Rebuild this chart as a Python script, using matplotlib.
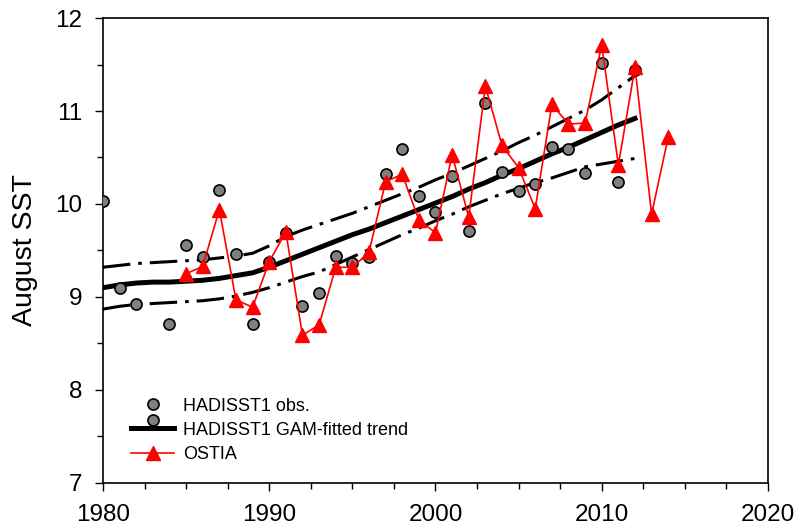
import matplotlib
matplotlib.use('Agg')
import matplotlib.pyplot as plt
from matplotlib.ticker import MultipleLocator

plt.rcParams['font.family'] = ['Liberation Sans', 'DejaVu Sans']

# HADISST1 observations
obs_years = list(range(1980, 2013))
obs_sst = [10.03, 9.10, 8.92, 7.68, 8.71, 9.56, 9.43, 10.15, 9.46, 8.71,
           9.38, 9.69, 8.90, 9.04, 9.44, 9.37, 9.43, 10.32, 10.59, 10.09,
           9.91, 10.30, 9.71, 11.09, 10.34, 10.14, 10.22, 10.61, 10.59, 10.33,
           11.52, 10.24, 11.44]

# GAM-fitted trend and confidence band
trend_years = list(range(1980, 2013))
trend = [9.10, 9.13, 9.15, 9.16, 9.16, 9.17, 9.18, 9.20, 9.23, 9.26,
         9.32, 9.39, 9.46, 9.53, 9.60, 9.67, 9.73, 9.80, 9.87, 9.94,
         10.01, 10.08, 10.16, 10.23, 10.31, 10.38, 10.46, 10.54, 10.61, 10.69,
         10.77, 10.85, 10.92]
upper = [9.32, 9.34, 9.36, 9.37, 9.38, 9.39, 9.40, 9.42, 9.44, 9.47,
         9.55, 9.65, 9.72, 9.78, 9.84, 9.90, 9.97, 10.04, 10.11, 10.18,
         10.26, 10.33, 10.41, 10.49, 10.57, 10.66, 10.74, 10.83, 10.92, 11.01,
         11.12, 11.25, 11.38]
lower = [8.87, 8.90, 8.92, 8.93, 8.94, 8.95, 8.96, 8.98, 9.01, 9.05,
         9.10, 9.16, 9.22, 9.27, 9.35, 9.43, 9.51, 9.59, 9.67, 9.74,
         9.82, 9.89, 9.97, 10.04, 10.11, 10.17, 10.23, 10.28, 10.34, 10.40,
         10.43, 10.46, 10.49]

# OSTIA
ostia_years = list(range(1985, 2015))
ostia_sst = [9.25, 9.33, 9.94, 8.97, 8.89, 9.38, 9.70, 8.59, 8.70, 9.32,
             9.32, 9.48, 10.24, 10.32, 9.83, 9.69, 10.53, 9.86, 11.27, 10.63,
             10.39, 9.95, 11.07, 10.86, 10.87, 11.71, 10.42, 11.47, 9.89, 10.72]

fig = plt.figure(figsize=(7.97, 5.31), dpi=100)
ax = fig.add_axes([0.1292, 0.0904, 0.8344, 0.8757])

dd = (9, 2.6, 1.2, 2.6)
ax.plot(trend_years, upper, color='black', lw=2.2, dashes=dd, zorder=2)
ax.plot(trend_years, lower, color='black', lw=2.2, dashes=dd, zorder=2)
ax.plot(trend_years, trend, color='black', lw=3.6, zorder=3,
        label='HADISST1 GAM-fitted trend')
ax.plot(obs_years, obs_sst, 'o', color='#808080', mec='black', mew=1.2,
        ms=8, zorder=4, label='HADISST1 obs.')
ax.plot(ostia_years, ostia_sst, '-^', color='red', lw=1.2, ms=10,
        zorder=5, label='OSTIA')

ax.set_xlim(1980, 2020)
ax.set_ylim(7, 12)
ax.xaxis.set_major_locator(MultipleLocator(10))
ax.xaxis.set_minor_locator(MultipleLocator(2.5))
ax.yaxis.set_major_locator(MultipleLocator(1))
ax.yaxis.set_minor_locator(MultipleLocator(0.5))
ax.tick_params(which='both', direction='out', top=False, right=False,
               width=1, labelsize=17.5)
ax.tick_params(which='major', length=6, pad=9)
ax.tick_params(which='minor', length=4)
for s in ax.spines.values():
    s.set_linewidth(1.2)
ax.set_ylabel('August SST', fontsize=20.5, labelpad=12)

h, l = ax.get_legend_handles_labels()
order = [1, 0, 2]
ax.legend([h[i] for i in order], [l[i] for i in order], loc='lower left',
          bbox_to_anchor=(0.0175, 0.008), frameon=False, fontsize=13,
          handlelength=2.4, labelspacing=0.4, handletextpad=0.5)

fig.savefig('out.png', dpi=100)
